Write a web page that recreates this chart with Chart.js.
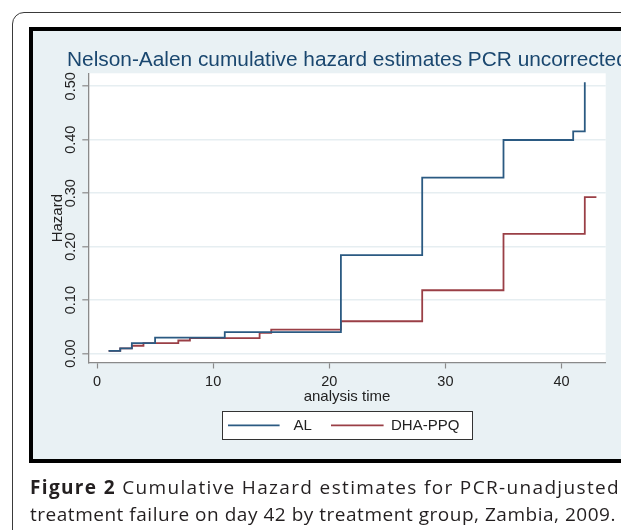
<!DOCTYPE html>
<html>
<head>
<meta charset="utf-8">
<script src="https://cdn.jsdelivr.net/npm/chart.js@4.4.1/dist/chart.umd.min.js"></script>
<style>
  html, body { margin: 0; padding: 0; background: #ffffff; width: 621px; height: 530px; overflow: hidden; position: relative; }
  #rbox { position: absolute; left: 12px; top: 12px; width: 700px; height: 620px; border: 1.5px solid #3a3a3a; border-radius: 12px; box-sizing: border-box; }
  #frame { position: absolute; left: 29px; top: 27px; width: 700px; height: 436px; border: 4.3px solid #000; box-sizing: border-box; background: #e9f1f4; }
  #c { position: absolute; left: 0; top: 0; }
  .cap { position: absolute; left: 30px; font-family: "Open Sans", "Noto Sans", sans-serif; font-size: 19px; line-height: 16px; color: #231f20; white-space: nowrap; }
  .cap b { font-weight: 700; }
</style>
</head>
<body>
<div id="rbox"></div>
<div id="frame"></div>
<canvas id="c" width="621" height="530"></canvas>
<div class="cap" id="cap1" style="top:478.5px;"><b>Figure 2</b> Cumulative Hazard estimates for PCR-unadjusted</div>
<div class="cap" id="cap2" style="top:505.5px;">treatment failure on day 42 by treatment group, Zambia, 2009.</div>
<script>
// ---- data ----
const chartTitle = "Nelson-Aalen cumulative hazard estimates PCR uncorrected";
const seriesNames = ["AL", "DHA-PPQ"];
const alTimes   = [1, 2, 3, 5, 11, 21, 28, 35, 41, 42];
const alHazard  = [0.0049, 0.0098, 0.0196, 0.0300, 0.0400, 0.1840, 0.3290, 0.3995, 0.4157, 0.5075];
const dhaTimes  = [1, 2, 3, 4, 7, 8, 14, 15, 21, 28, 35, 42, 43];
const dhaHazard = [0.0049, 0.0098, 0.0147, 0.0196, 0.0245, 0.0290, 0.0386, 0.0450, 0.0605, 0.1185, 0.2240, 0.2927, 0.2927];
const xTicks = [0, 10, 20, 30, 40];
const yTicks = [0, 0.1, 0.2, 0.3, 0.4, 0.5];
const yTickLabels = ["0.00", "0.10", "0.20", "0.30", "0.40", "0.50"];
const xTitle = "analysis time";
const yTitle = "Hazard";

// fit caption lines to their column widths (justified look)
[["cap1", 590], ["cap2", 586]].forEach(([id, target]) => {
  const el = document.getElementById(id);
  const n = el.textContent.length;
  const w = el.getBoundingClientRect().width;
  el.style.letterSpacing = ((target - w) / n) + 'px';
});

const colors = ["#2b5a82", "#9a3f46"];
const toPts = (xs, ys) => xs.map((x, i) => ({ x: x, y: ys[i] }));

const FONT = '"Liberation Sans", Arial, sans-serif';

const plotBg = {
  id: 'plotBg',
  beforeDraw(chart) {
    const { ctx, chartArea: a } = chart;
    ctx.save();
    ctx.fillStyle = '#ffffff';
    ctx.fillRect(a.left, a.top, a.right - a.left, a.bottom - a.top);
    ctx.restore();
  }
};

const extras = {
  id: 'extras',
  afterDraw(chart) {
    const { ctx, chartArea: a } = chart;
    const ys = chart.scales.y;
    ctx.save();
    // title
    ctx.fillStyle = '#1a476f';
    ctx.font = '20.85px ' + FONT;
    ctx.textAlign = 'left';
    ctx.textBaseline = 'middle';
    ctx.fillText(chartTitle, 67, 60);
    // rotated y tick labels
    ctx.fillStyle = '#222';
    ctx.font = '14.5px ' + FONT;
    ctx.textAlign = 'center';
    ctx.textBaseline = 'middle';
    yTicks.forEach((v, i) => {
      const py = ys.getPixelForValue(v);
      ctx.save();
      ctx.translate(a.left - 17.5, py);
      ctx.rotate(-Math.PI / 2);
      ctx.fillText(yTickLabels[i], 0, 0);
      ctx.restore();
    });
    // legend box
    const cx = (a.left + a.right) / 2;
    const bw = 250, bh = 28;
    const bx = cx - bw / 2, by = a.bottom + 48.3;
    ctx.fillStyle = '#ffffff';
    ctx.fillRect(bx, by, bw, bh);
    ctx.strokeStyle = '#333';
    ctx.lineWidth = 1;
    ctx.strokeRect(Math.round(bx) + 0.5, Math.round(by) + 0.5, bw, bh);
    const items = [
      { x0: 6, x1: 57.6, tx: 71.6 },
      { x0: 109, x1: 161.6, tx: 169 }
    ];
    chart.data.datasets.forEach((ds, i) => {
      const it = items[i];
      ctx.strokeStyle = ds.borderColor;
      ctx.lineWidth = 1.8;
      ctx.beginPath();
      ctx.moveTo(bx + it.x0, by + bh / 2);
      ctx.lineTo(bx + it.x1, by + bh / 2);
      ctx.stroke();
      ctx.fillStyle = '#222';
      ctx.font = '15px ' + FONT;
      ctx.textAlign = 'left';
      ctx.textBaseline = 'middle';
      ctx.fillText(ds.label, bx + it.tx, by + bh / 2 + 0.5);
    });
    ctx.restore();
  }
};

new Chart(document.getElementById('c'), {
  type: 'line',
  data: {
    datasets: [
      { label: seriesNames[0], data: toPts(alTimes, alHazard), borderColor: colors[0], borderWidth: 1.8, stepped: 'before', pointRadius: 0, fill: false },
      { label: seriesNames[1], data: toPts(dhaTimes, dhaHazard), borderColor: colors[1], borderWidth: 1.8, stepped: 'before', pointRadius: 0, fill: false }
    ]
  },
  options: {
    responsive: false,
    animation: false,
    devicePixelRatio: 1,
    layout: { padding: { left: 0, right: 15.3, top: 73.3, bottom: 124 } },
    plugins: { legend: { display: false }, title: { display: false }, tooltip: { enabled: false } },
    scales: {
      x: {
        type: 'linear', min: -0.75, max: 43.8,
        afterBuildTicks: s => { s.ticks = xTicks.map(v => ({ value: v })); },
        afterFit: s => { s.height = 43; },
        grid: { drawOnChartArea: false, drawTicks: true, tickLength: 5.5, tickColor: '#8a8a8a', tickWidth: 1.2 },
        border: { display: true, color: '#8a8a8a', width: 1.3 },
        ticks: { font: { family: FONT, size: 14.5 }, color: '#222', padding: 5, maxRotation: 0, callback: v => String(v) },
        title: { display: true, text: xTitle, font: { family: FONT, size: 15 }, color: '#222', padding: { top: 0, bottom: 0 } }
      },
      y: {
        type: 'linear', min: -0.0176, max: 0.5243,
        afterBuildTicks: s => { s.ticks = yTicks.map(v => ({ value: v })); },
        afterFit: s => { s.width = 88.3; },
        grid: { color: '#e6eef1', lineWidth: 1.6, drawTicks: true, tickLength: 6, tickColor: '#8a8a8a', tickWidth: 1.2 },
        border: { display: true, color: '#8a8a8a', width: 1.3 },
        ticks: { color: 'rgba(0,0,0,0)', font: { family: FONT, size: 14.5 }, callback: v => '' },
        title: { display: true, text: yTitle, font: { family: FONT, size: 15 }, color: '#222', padding: { top: 49, bottom: 0 } }
      }
    }
  },
  plugins: [plotBg, extras]
});
</script>
</body>
</html>
